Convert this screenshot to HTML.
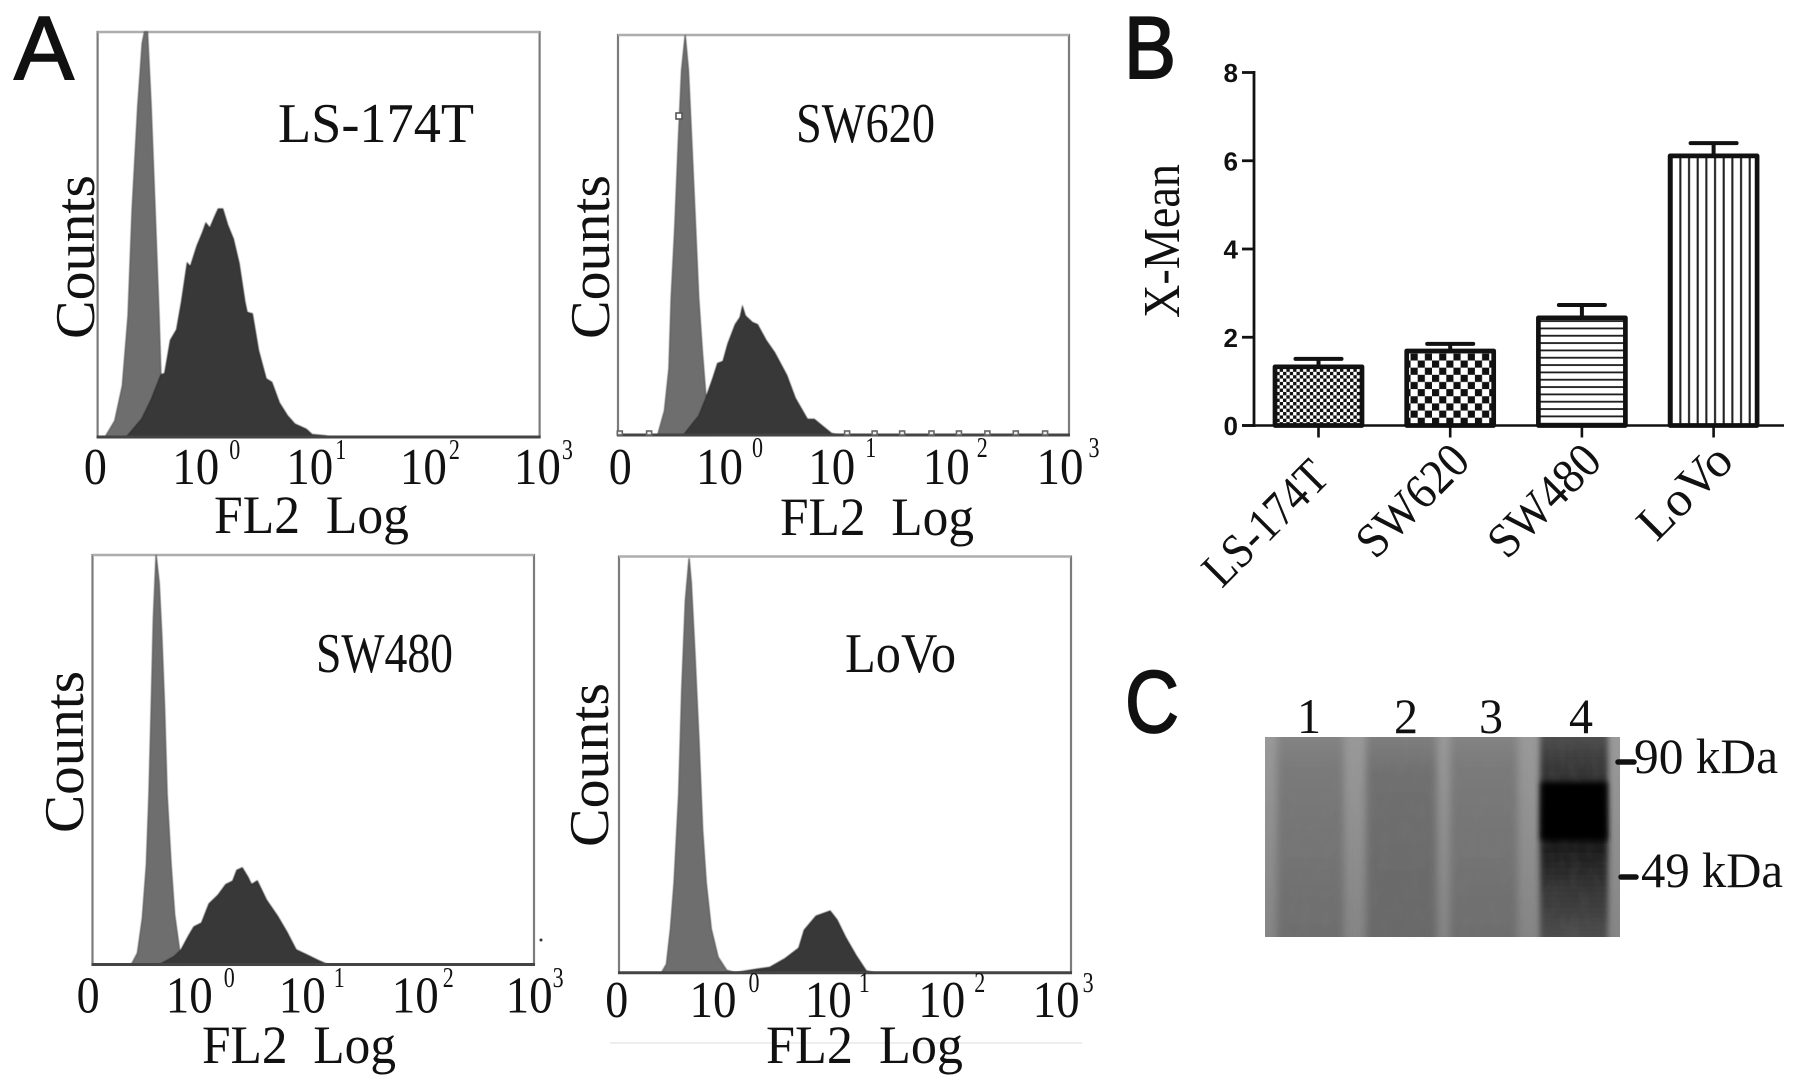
<!DOCTYPE html>
<html lang="en">
<head>
<meta charset="utf-8">
<title>Flow cytometry histograms, X-Mean bar chart and western blot</title>
<style>
html,body{margin:0;padding:0;background:#fff;width:1795px;height:1083px;overflow:hidden}
svg{display:block}
text{font-family:"Liberation Serif","Noto Serif CJK SC",serif;fill:#111}
.sans{font-family:"Liberation Sans",sans-serif}
</style>
</head>
<body>
<svg id="figure" width="1795" height="1083" viewBox="0 0 1795 1083" xmlns="http://www.w3.org/2000/svg">
<defs>
<pattern id="pat-small-check" patternUnits="userSpaceOnUse" width="6.7" height="6.7"><rect width="6.7" height="6.7" fill="#fff"/><rect width="3.35" height="3.35" fill="#111"/><rect x="3.35" y="3.35" width="3.35" height="3.35" fill="#111"/></pattern>
<pattern id="pat-large-check" patternUnits="userSpaceOnUse" width="14.3" height="14.3" patternTransform="translate(2 3)"><rect width="14.3" height="14.3" fill="#fff"/><rect width="7.15" height="7.15" fill="#111"/><rect x="7.15" y="7.15" width="7.15" height="7.15" fill="#111"/></pattern>
<pattern id="pat-horizontal" patternUnits="userSpaceOnUse" width="10" height="7.33" patternTransform="translate(0 2)"><rect width="10" height="7.33" fill="#fff"/><rect y="3" width="10" height="1.8" fill="#1a1a1a"/></pattern>
<pattern id="pat-vertical" patternUnits="userSpaceOnUse" width="8.67" height="10" patternTransform="translate(3 0)"><rect width="8.67" height="10" fill="#fff"/><rect x="3" width="2.1" height="10" fill="#222"/></pattern>
<linearGradient id="lane-fade" x1="0" y1="0" x2="0" y2="1"><stop offset="0" stop-color="#8a8a8a"/><stop offset="0.22" stop-color="#7a7a7a"/><stop offset="1" stop-color="#6c6c6c"/></linearGradient>
<linearGradient id="lane-fade-2" x1="0" y1="0" x2="0" y2="1"><stop offset="0" stop-color="#868686"/><stop offset="0.25" stop-color="#6f6f6f"/><stop offset="1" stop-color="#686868"/></linearGradient>
<linearGradient id="lane-4-fade" x1="0" y1="0" x2="0" y2="1"><stop offset="0" stop-color="#565656"/><stop offset="0.18" stop-color="#383838"/><stop offset="0.5" stop-color="#161616"/><stop offset="0.72" stop-color="#343434"/><stop offset="1" stop-color="#545454"/></linearGradient>
<linearGradient id="membrane-fade" x1="0" y1="0" x2="0" y2="1"><stop offset="0" stop-color="#9a9a9a"/><stop offset="1" stop-color="#858585"/></linearGradient>
<filter id="soft" x="-5%" y="-5%" width="110%" height="110%"><feGaussianBlur stdDeviation="0.5"/></filter>
<filter id="lane-blur" x="-30%" y="-30%" width="160%" height="160%"><feGaussianBlur stdDeviation="4"/></filter>
<filter id="smear-blur" x="-30%" y="-30%" width="160%" height="160%"><feGaussianBlur stdDeviation="3"/></filter>
<filter id="grain" x="0" y="0" width="100%" height="100%"><feTurbulence type="fractalNoise" baseFrequency="0.1 0.05" numOctaves="3" seed="4"/><feColorMatrix values="0 0 0 0 0.25  0 0 0 0 0.25  0 0 0 0 0.25  0.8 0 0 0 -0.3"/></filter>
<clipPath id="blot-clip"><rect x="1265" y="737" width="355" height="200"/></clipPath>
</defs>
<g id="layer"></g>
</svg>
<script>
// ---------- Panel A histograms: channel (0-100 of axis), count (0-100 % of peak) ----------
var tickBases = ['0', '10', '10', '10', '10'];
var tickExponents = ['', '0', '1', '2', '3'];

var ls174tTicks = [-0.5, 22.2, 48, 73.7, 99.5];
var ls174tIsoChannel = [0, 1.7, 3.9, 5.6, 6.9, 7.8, 9.1, 10.1, 10.6, 11.3, 12.1, 13, 13.9, 14.3, 15.5, 17, 20];
var ls174tIsoCount = [0, 0, 4, 12.7, 30, 55.8, 81.7, 97.2, 100, 100, 81.7, 55.8, 30, 16, 8, 3, 0];
var ls174tStainChannel = [6.5, 10, 12.1, 14.3, 15.2, 16.5, 17.9, 19, 20.3, 21, 22.5, 23.8, 24.5, 25.4, 26.4, 27.3, 28.3, 29.4, 30.7, 32, 33.3, 33.8, 35, 36.4, 38.1, 39.4, 41.1, 42.9, 44.6, 47.2, 48.5, 51.5, 52.4];
var ls174tStainCount = [0, 4.5, 9.2, 15.3, 15.7, 23.9, 26.5, 33.4, 42.9, 42, 47.2, 50.6, 52.8, 51.5, 54.1, 56.3, 56.3, 52.4, 48.9, 42.9, 33.4, 30.8, 30.4, 21.3, 14.4, 13.5, 8.4, 5.3, 3.2, 1.9, 0.6, 0.3, 0];

var sw620Ticks = [0.5, 22.5, 47.4, 72.8, 98];
var sw620IsoChannel = [8.8, 10.3, 11.3, 11.8, 12.6, 13.4, 14.1, 14.9, 15.6, 16.4, 17.2, 17.9, 18.7, 19.5, 20.2, 21];
var sw620IsoCount = [0, 6.1, 16.7, 34.2, 51.8, 73.7, 91.2, 100, 91.2, 71.9, 51.8, 34.2, 21, 9.6, 3.5, 0];
var sw620StainChannel = [14.5, 17.9, 19.5, 21, 22.1, 23.3, 24.4, 26, 27.1, 27.6, 28.2, 29.8, 30.9, 32.8, 34.7, 37.4, 39.3, 42, 43.5, 45, 47.3, 48.9];
var sw620StainCount = [0, 4.8, 9.2, 14, 17.9, 18.4, 22.8, 27.6, 29.4, 32, 29.8, 28.1, 27.6, 23.7, 20.6, 14.9, 9.2, 3.9, 3.9, 2.5, 0.4, 0];
var sw620BumpChannel = [0.4, 6.9, 50.8, 56.9, 63, 69.5, 75.6, 81.9, 88.2, 94.7];

var sw480Ticks = [-1, 21.9, 47.5, 73.1, 98.9];
var sw480IsoChannel = [8.8, 10.2, 11.3, 12.2, 12.8, 13.4, 13.8, 14.4, 15.1, 15.7, 16.3, 16.9, 17.8, 18.6, 19.7, 21];
var sw480IsoCount = [0, 2.8, 11.4, 24.3, 41.5, 67.3, 84.5, 100, 93.1, 80.2, 63, 41.5, 24.3, 12.2, 3.6, 0];
var sw480StainChannel = [15.1, 18.4, 20.1, 21.8, 23, 24.7, 26.4, 28.5, 30.2, 31.8, 32.7, 33.9, 35.2, 36, 37.3, 39.4, 41.9, 44, 46.1, 48.6, 51.1, 53.2];
var sw480StainCount = [0, 1.9, 3.6, 7, 9.2, 10.1, 14.8, 17, 19.5, 20.4, 23, 23.6, 21.3, 19.5, 20.4, 15.7, 11.8, 7.9, 3.6, 2.3, 1, 0];

var lovoTicks = [-0.5, 20.8, 46.3, 71.4, 96.7];
var lovoIsoChannel = [9.4, 10.5, 11.4, 12.2, 13.2, 13.9, 14.7, 15.5, 16, 16.8, 17.7, 18.5, 19.3, 20.4, 21.9, 23.8, 25.7];
var lovoIsoCount = [0, 2.1, 10.6, 21.6, 42.8, 68.2, 89.4, 99.6, 93.6, 76.7, 55.5, 34.3, 21.6, 10.6, 3.8, 0.6, 0];
var lovoStainChannel = [25.7, 30.3, 33.4, 36.8, 39.8, 41, 43.6, 46.7, 48.2, 50.1, 52.4, 54.7, 56.6];
var lovoStainCount = [0, 0.8, 1.3, 3.4, 5.9, 10.2, 13.6, 14.8, 12.7, 8.5, 4.2, 0.4, 0];

// ---------- Panel B bar chart ----------
var barCategories = ['LS-174T', 'SW620', 'SW480', 'LoVo'];
var barValues = [1.33, 1.69, 2.44, 6.11];
var barErrorTops = [1.51, 1.85, 2.73, 6.4];
var barYTicks = [0, 2, 4, 6, 8];

// ---------- Panel C blot ----------
var laneLabels = ['1', '2', '3', '4'];
var sizeMarkers = ['90 kDa', '49 kDa'];

var root = document.getElementById('layer');
var NS = 'http://www.w3.org/2000/svg';

function make(parent, tag, attrs) {
  var el = document.createElementNS(NS, tag);
  for (var k in attrs) { el.setAttribute(k, attrs[k]); }
  parent.appendChild(el);
  return el;
}
function label(parent, str, x, y, size, width, name, extra) {
  var attrs = { x: x, y: y, 'font-size': size };
  if (width) { attrs.textLength = width; attrs.lengthAdjust = 'spacingAndGlyphs'; }
  for (var k in extra) { attrs[k] = extra[k]; }
  var el = make(parent, 'text', attrs);
  el.textContent = str;
  
  
  return el;
}
function areaPoints(channels, counts, xf, yf) {
  return channels.map(function (c, i) { return xf(c).toFixed(1) + ',' + yf(counts[i]).toFixed(1); }).join(' ');
}

// faint scan line sits beneath the LoVo axis title
var faintRule = make(root, 'line', { x1: 610, x2: 1082, y1: 1043, y2: 1043, stroke: '#e8e8e8', 'stroke-width': 1.5 });



function histogram(p) {
  var g = make(root, 'g', {});
  
  
  var xf = function (c) { return p.left + (p.right - p.left) * c / 100; };
  var yf = function (v) { return p.bottom - (p.bottom - p.top) * v / 100; };

  var frame = make(g, 'rect', { x: p.left, y: p.top, width: p.right - p.left, height: p.bottom - p.top, fill: '#fff', stroke: '#7c7c7c', 'stroke-width': 2.2 });
  
  
  var frameTop = make(g, 'line', { x1: p.left, x2: p.right, y1: p.top, y2: p.top, stroke: '#adadad', 'stroke-width': 2.2 });
  
  

  var marks = make(g, 'g', { filter: 'url(#soft)' });
  
  

  var iso = make(marks, 'polygon', { points: areaPoints(p.isoC, p.isoV, xf, yf), fill: '#6e6e6e', stroke: '#585858', 'stroke-width': 1.2 });
  
  

  var stain = make(marks, 'polygon', { points: areaPoints(p.stC, p.stV, xf, yf), fill: '#383838', stroke: '#2c2c2c', 'stroke-width': 1.2 });
  
  

  var base = make(g, 'line', { x1: p.left - 1, x2: p.right + 1, y1: p.bottom, y2: p.bottom, stroke: '#444', 'stroke-width': 3 });
  
  

  (p.bumps || []).forEach(function (c) {
    var b = make(g, 'rect', { x: xf(c) - 2.5, y: p.bottom - 4, width: 5, height: 4, fill: '#eee', stroke: '#666', 'stroke-width': 1.6 });
    
    
  });

  p.ticks.forEach(function (c, i) {
    var w = tickBases[i].length > 1 ? 47 : 23;
    var tx = xf(c) - w / 2;
    label(g, tickBases[i], tx.toFixed(1), p.tickY, 52, w, 'x-tick-label');
    if (tickExponents[i]) {
      var gap = p.supGaps[i - 1];
      label(g, tickExponents[i], (tx + w + gap).toFixed(1), p.supY, 29, 11, 'x-tick-exponent');
    }
  });

  label(g, p.title, p.titleX, p.titleY, 56, p.titleW, 'cell-line-title');
  label(g, 'FL2\u00a0\u00a0Log', p.xlabX, p.xlabY, 54, p.xlabW, 'x-axis-title');
  label(g, 'Counts', 0, 0, 56, p.ylabW, 'y-axis-title', { transform: 'translate(' + p.ylabX + ',' + p.ylabY + ') rotate(-90)' });
}

histogram({ slug: 'ls-174t', left: 97.6, right: 539.6, top: 32, bottom: 437, ticks: ls174tTicks, isoC: ls174tIsoChannel, isoV: ls174tIsoCount, stC: ls174tStainChannel, stV: ls174tStainCount, tickY: 484, supY: 459, supGaps: [10, 2, 2, 1], title: 'LS-174T', titleX: 278, titleY: 142, titleW: 196, xlabX: 214, xlabY: 533, xlabW: 195, ylabX: 94, ylabY: 339, ylabW: 164 });
histogram({ slug: 'sw620', left: 618, right: 1069, top: 35, bottom: 435, ticks: sw620Ticks, isoC: sw620IsoChannel, isoV: sw620IsoCount, stC: sw620StainChannel, stV: sw620StainCount, bumps: sw620BumpChannel, tickY: 484, supY: 457, supGaps: [9, 10, 7, 5], title: 'SW620', titleX: 796, titleY: 142, titleW: 139, xlabX: 780, xlabY: 535, xlabW: 194, ylabX: 609, ylabY: 339, ylabW: 164 });
histogram({ slug: 'sw480', left: 92.5, right: 534, top: 555, bottom: 964.5, ticks: sw480Ticks, isoC: sw480IsoChannel, isoV: sw480IsoCount, stC: sw480StainChannel, stV: sw480StainCount, tickY: 1012.5, supY: 987, supGaps: [11, 8, 4, 0], title: 'SW480', titleX: 316, titleY: 672, titleW: 137, xlabX: 202, xlabY: 1063, xlabW: 194, ylabX: 83, ylabY: 833, ylabW: 162 });
histogram({ slug: 'lovo', left: 619, right: 1071, top: 556.5, bottom: 972.7, ticks: lovoTicks, isoC: lovoIsoChannel, isoV: lovoIsoCount, stC: lovoStainChannel, stV: lovoStainCount, tickY: 1017, supY: 992, supGaps: [12, 7, 9, 3], title: 'LoVo', titleX: 845, titleY: 672, titleW: 111, xlabX: 766, xlabY: 1063, xlabW: 197, ylabX: 608, ylabY: 847, ylabW: 164 });

// small artefacts in the SW620 and SW480 panels
var gateBox = make(root, 'rect', { x: 676, y: 113, width: 6, height: 6, fill: '#fff', stroke: '#555', 'stroke-width': 1.6 });


var speck = make(root, 'circle', { cx: 541, cy: 940, r: 1.5, fill: '#333' });



// panel letters
label(root, 'A', 14, 79, 90, 60, 'panel-letter-a', { class: 'sans', stroke: '#111', 'stroke-width': 1.6 });
label(root, 'B', 1124, 78, 88, 52, 'panel-letter-b', { class: 'sans', stroke: '#111', 'stroke-width': 2 });
label(root, 'C', 1125, 732, 88, 54, 'panel-letter-c', { class: 'sans', stroke: '#111', 'stroke-width': 1.8 });

// ---------- Panel B ----------
(function () {
  var g = make(root, 'g', {});
  
  
  var axisX = 1254, axisY = 425.5, topY = 72.5, maxV = 8;
  var yf = function (v) { return axisY - (axisY - topY) * v / maxV; };
  var catX = function (i) { return 1318.5 + i * 131.7; };
  var barW = 87;
  var fills = ['url(#pat-small-check)', 'url(#pat-large-check)', 'url(#pat-horizontal)', 'url(#pat-vertical)'];
  var labelWidths = [155, 137, 137, 112];
  var labelShiftX = [-9, 0, 0, 0];
  var labelShiftY = [16, 0, 0, 0];

  barCategories.forEach(function (cat, i) {
    var cx = catX(i);
    var err = make(g, 'path', { d: 'M' + cx + ' ' + yf(barValues[i]) + 'V' + yf(barErrorTops[i]) + 'M' + (cx - 23) + ' ' + yf(barErrorTops[i]) + 'H' + (cx + 23), stroke: '#111', 'stroke-width': 4, 'stroke-linecap': 'round', fill: 'none' });
    
    
    var bar = make(g, 'rect', { x: cx - barW / 2, y: yf(barValues[i]), width: barW, height: axisY - yf(barValues[i]), fill: fills[i], stroke: '#111', 'stroke-width': 4.7, 'stroke-linejoin': 'round' });
    
    
    var tick = make(g, 'line', { x1: cx, x2: cx, y1: axisY, y2: axisY + 12, stroke: '#111', 'stroke-width': 2.6 });
    
    
    label(g, cat, 0, 0, 49, labelWidths[i], 'x-category-label', { 'text-anchor': 'end', transform: 'translate(' + (cx + 22 + labelShiftX[i]) + ',' + (axisY + 38 + labelShiftY[i]) + ') rotate(-45)' });
  });

  var yAxis = make(g, 'line', { x1: axisX, x2: axisX, y1: topY - 1.5, y2: axisY + 1.5, stroke: '#111', 'stroke-width': 2.8 });
  
  
  var xAxis = make(g, 'line', { x1: 1242, x2: 1784, y1: axisY, y2: axisY, stroke: '#111', 'stroke-width': 2.6 });
  
  

  barYTicks.forEach(function (t) {
    var tick = make(g, 'line', { x1: 1242, x2: axisX, y1: yf(t), y2: yf(t), stroke: '#111', 'stroke-width': 2.8 });
    
    
    label(g, String(t), 1238, yf(t) + 9.5, 26, 0, 'y-tick-label', { 'text-anchor': 'end', class: 'sans', 'font-weight': 'bold' });
  });
  label(g, 'X-Mean', 0, 0, 52, 154, 'y-axis-title', { transform: 'translate(1179,318) rotate(-90)' });
})();

// ---------- Panel C ----------
(function () {
  var g = make(root, 'g', {});
  
  
  var clip = make(g, 'g', { 'clip-path': 'url(#blot-clip)' });
  
  

  var bg = make(clip, 'rect', { x: 1265, y: 737, width: 355, height: 200, fill: 'url(#membrane-fade)' });
  
  

  [[1277, 67, 'url(#lane-fade)'], [1366, 71, 'url(#lane-fade-2)'], [1450, 68, 'url(#lane-fade)']].forEach(function (l, i) {
    var lane = make(clip, 'rect', { x: l[0], y: 715, width: l[1], height: 240, fill: l[2], filter: 'url(#lane-blur)' });
    
    
  });
  var lane4 = make(clip, 'rect', { x: 1540, y: 725, width: 68, height: 225, fill: 'url(#lane-4-fade)', filter: 'url(#smear-blur)' });
  
  
  var grain = make(clip, 'rect', { x: 1265, y: 737, width: 355, height: 200, filter: 'url(#grain)', opacity: 0.22 });
  
  
  var band = make(clip, 'rect', { x: 1541, y: 782, width: 66, height: 58, fill: '#000', filter: 'url(#smear-blur)' });
  
  

  [1309, 1406, 1491, 1581].forEach(function (x, i) {
    label(g, laneLabels[i], x - 12, 733, 50, 24, 'lane-label');
  });
  var m1 = make(g, 'line', { x1: 1618, x2: 1634, y1: 762, y2: 762, stroke: '#111', 'stroke-width': 5.5, 'stroke-linecap': 'round' });
  
  
  var m2 = make(g, 'line', { x1: 1621, x2: 1636, y1: 877, y2: 877, stroke: '#111', 'stroke-width': 5.5, 'stroke-linecap': 'round' });
  
  
  label(g, sizeMarkers[0], 1634, 773, 50, 144, 'marker-label-90-kda');
  label(g, sizeMarkers[1], 1641, 887, 50, 142, 'marker-label-49-kda');
})();
</script>
</body>
</html>
